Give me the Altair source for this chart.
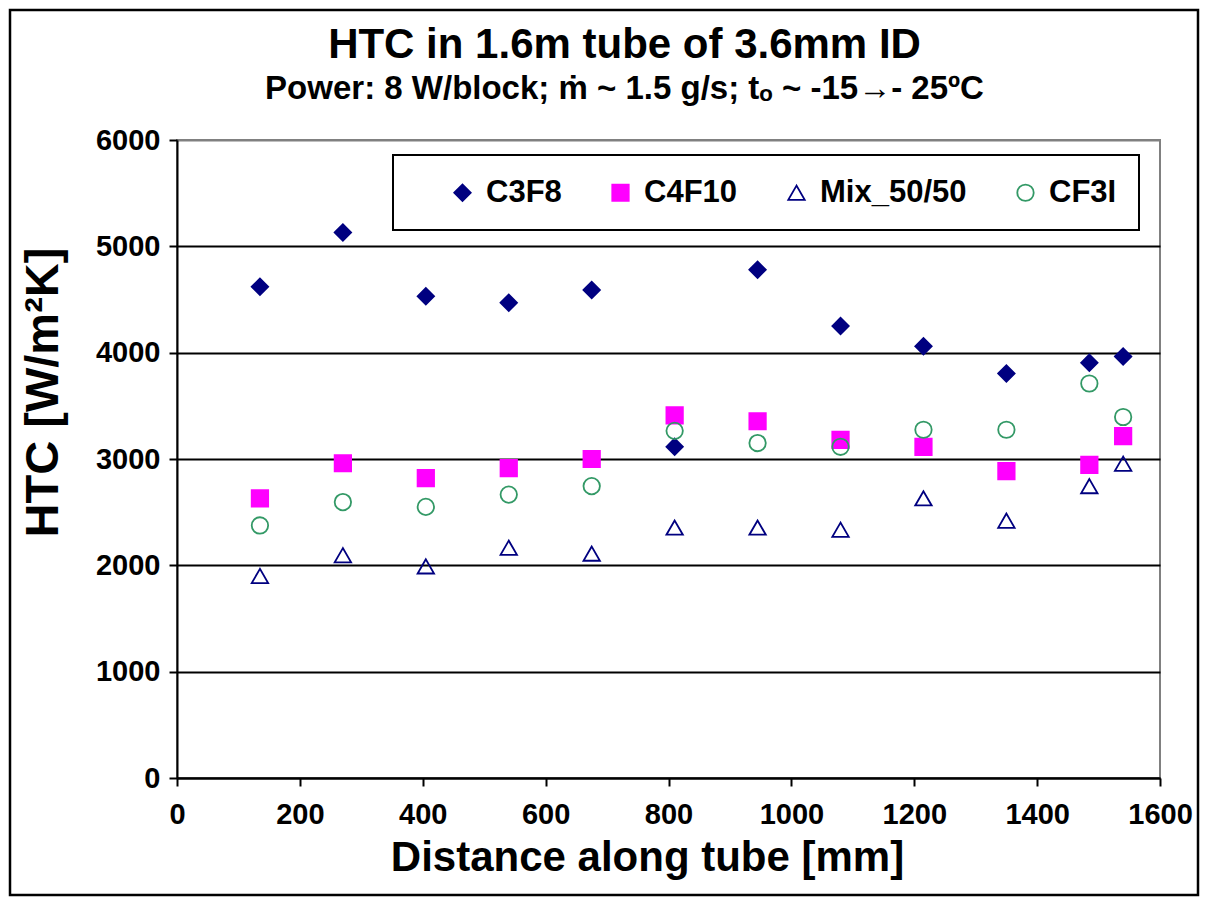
import altair as alt
import pandas as pd

# ---- data ----
distance_mm = [135, 270, 405, 540, 675, 810, 945, 1080, 1215, 1350, 1485, 1540]
c3f8 = [4620, 5130, 4530, 4470, 4590, 3115, 4780, 4250, 4060, 3805, 3905, 3965]
c4f10 = [2630, 2960, 2820, 2915, 3000, 3410, 3355, 3180, 3115, 2885, 2945, 3215]
mix_50_50 = [1900, 2095, 1990, 2165, 2110, 2355, 2355, 2335, 2630, 2420, 2745, 2955]
cf3i = [2375, 2595, 2550, 2665, 2745, 3265, 3150, 3115, 3275, 3275, 3710, 3395]

series_names = ["C3F8", "C4F10", "Mix_50/50", "CF3I"]
series_values = [c3f8, c4f10, mix_50_50, cf3i]
series_shapes = ["diamond", "square", "triangle-up", "circle"]
series_stroke = ["#000080", "#FF00FF", "#000080", "#339966"]
series_fill = ["#000080", "#FF00FF", "transparent", "transparent"]
series_size = [270, 270, 190, 250]

x_ticks = [0, 200, 400, 600, 800, 1000, 1200, 1400, 1600]
y_ticks = [0, 1000, 2000, 3000, 4000, 5000, 6000]

rows = []
for name, vals in zip(series_names, series_values):
    for d, v in zip(distance_mm, vals):
        rows.append({"series": name, "distance": d, "htc": v})
df = pd.DataFrame(rows)

FONT = "Liberation Sans"
W, H = 983, 638

legend = alt.Legend(
    title="\u00a0",
    titleOrient="left",
    titlePadding=32,
    titleFontSize=10,
    orient="none",
    direction="horizontal",
    columns=4,
    legendX=216,
    legendY=15,
    padding=22,
    columnPadding=43,
    labelOffset=8,
    labelFont=FONT,
    labelFontSize=31,
    labelFontWeight="bold",
    labelColor="black",
    fillColor="white",
    strokeColor="black",
    symbolStrokeWidth=1.8,
    symbolOpacity=1,
)

points = alt.Chart(df).mark_point(opacity=1, strokeWidth=1.8, fillOpacity=1).encode(
    x=alt.X(
        "distance:Q",
        scale=alt.Scale(domain=[0, 1600], nice=False),
        axis=alt.Axis(
            values=x_ticks,
            format="d",
            title="Distance along tube [mm]",
            titleFont=FONT,
            titleFontSize=42,
            titleFontWeight="bold",
            titleColor="black",
            titleX=470,
            titleY=92,
            titleBaseline="alphabetic",
            labelFont=FONT,
            labelFontSize=29,
            labelFontWeight="bold",
            labelColor="black",
            labelPadding=14,
            labelFlush=False,
            domainColor="black",
            domainWidth=2,
            tickColor="black",
            tickWidth=2,
            tickSize=8,
            grid=False,
        ),
    ),
    y=alt.Y(
        "htc:Q",
        scale=alt.Scale(domain=[0, 6000], nice=False),
        axis=alt.Axis(
            values=y_ticks,
            format="d",
            title="HTC [W/m²K]",
            titleFont=FONT,
            titleFontSize=47,
            titleFontWeight="bold",
            titleColor="black",
            titleX=-120,
            titleY=252,
            titleBaseline="alphabetic",
            titleAngle=270,
            labelFont=FONT,
            labelFontSize=29,
            labelFontWeight="bold",
            labelColor="black",
            labelPadding=9,
            labelFlush=False,
            domainColor="black",
            domainWidth=2,
            tickColor="black",
            tickWidth=2,
            tickSize=8,
            grid=True,
            gridColor={"condition": {"test": "datum.value == 6000", "value": "#808080"}, "value": "black"},
            gridWidth=2,
        ),
    ),
    shape=alt.Shape("series:N", scale=alt.Scale(domain=series_names, range=series_shapes), legend=legend),
    stroke=alt.Stroke("series:N", scale=alt.Scale(domain=series_names, range=series_stroke), legend=legend),
    fill=alt.Fill("series:N", scale=alt.Scale(domain=series_names, range=series_fill), legend=legend),
    size=alt.Size("series:N", scale=alt.Scale(domain=series_names, range=series_size), legend=legend),
)

frame = alt.Chart(pd.DataFrame({"f": [0]})).mark_rect(
    fillOpacity=0, stroke="black", strokeWidth=2.5, clip=False
).encode(
    x=alt.value(-167), x2=alt.value(1021), y=alt.value(-130), y2=alt.value(755)
)

chart = alt.layer(frame, points).properties(
    width=W,
    height=H,
    autosize=alt.AutoSizeParams(type="none"),
    padding={"left": 169, "top": 132, "right": 40, "bottom": 120},
    background="white",
    title=alt.TitleParams(
        text="HTC in 1.6m tube of 3.6mm ID",
        subtitle="Power: 8 W/block; ṁ ~ 1.5 g/s; tₒ ~ -15→- 25ºC",
        font=FONT,
        subtitleFont=FONT,
        fontSize=42,
        subtitleFontSize=33,
        fontWeight="bold",
        subtitleFontWeight="bold",
        color="black",
        subtitleColor="black",
        anchor="middle",
        dx=-44,
        offset=-98,
        subtitlePadding=6,
    ),
).configure_view(stroke="#808080", strokeWidth=2).configure_legend(strokeWidth=2)

chart.save("out.html", embed_options={"renderer": "svg", "actions": False})
